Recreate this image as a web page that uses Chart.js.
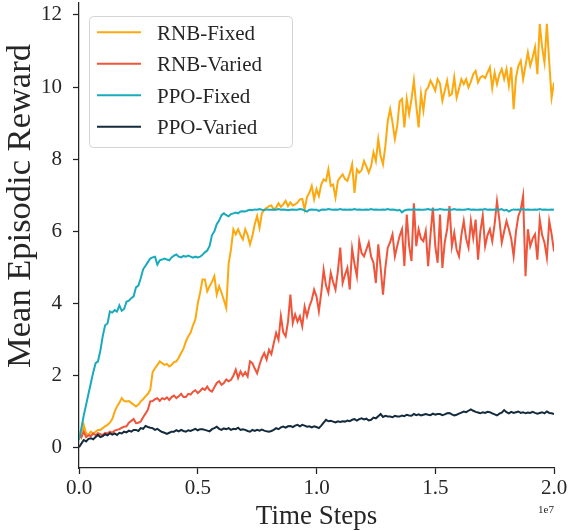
<!DOCTYPE html>
<html><head><meta charset="utf-8">
<script src="https://cdn.jsdelivr.net/npm/chart.js@4/dist/chart.umd.min.js"></script>
<style>html,body{margin:0;padding:0;background:#fff}canvas{display:block}</style>
</head><body>
<canvas id="c" width="570" height="531"></canvas>
<script>
const seriesNames = ['RNB-Fixed', 'RNB-Varied', 'PPO-Fixed', 'PPO-Varied'];
const seriesColors = ['#FCA80E', '#EE553A', '#19ABBC', '#142B3D'];
const stepSize = 1e5; // spacing of logged time steps

const rnbFixed = [
0.45,0.3,0.64,0.4,0.36,0.45,0.4,0.45,0.5,0.5,
0.55,0.6,0.64,0.7,0.8,1.0,1.15,1.25,1.38,1.3,
1.29,1.3,1.25,1.2,1.15,1.2,1.29,1.35,1.43,1.5,
1.61,2.1,2.21,2.3,2.4,2.35,2.3,2.33,2.26,2.3,
2.38,2.4,2.5,2.63,2.75,2.95,3.09,3.2,3.4,3.56,
4.0,4.3,4.67,4.67,4.34,4.48,4.6,4.76,4.25,4.48,
4.3,4.1,3.88,5.1,5.5,6.06,5.92,6.06,5.9,5.78,
6.06,5.9,5.64,5.87,6.2,6.43,6.1,6.5,6.61,6.65,
6.7,6.72,6.6,6.66,6.78,6.68,6.75,6.85,6.7,6.8,
6.72,6.75,6.8,6.89,6.9,6.61,6.95,7.07,7.26,6.89,
7.17,6.98,7.3,7.44,7.4,7.72,7.26,7.3,6.94,7.4,
7.5,7.58,7.45,7.4,7.6,7.86,7.07,7.72,7.63,7.7,
7.95,7.8,7.63,7.81,8.19,7.95,8.56,8.09,7.86,8.37,
9.06,9.39,9.02,8.56,8.93,9.6,9.67,8.88,9.67,9.25,
9.67,10.18,9.49,8.88,9.81,9.35,9.9,9.99,10.18,10.05,
9.9,10.22,10.1,9.62,9.9,10.18,9.76,9.81,10.27,9.71,
9.95,10.22,10.08,10.22,9.99,10.15,10.36,10.45,10.13,10.27,
10.31,10.25,10.4,10.55,9.97,10.4,10.08,10.35,10.5,10.22,
10.5,10.04,10.55,9.39,10.27,10.59,10.73,10.22,10.59,10.96,
10.59,10.82,11.1,10.36,11.75,11.1,10.68,11.75,10.68,9.71,
10.13
];

const rnbVaried = [
0.35,0.3,0.45,0.3,0.35,0.33,0.4,0.35,0.41,0.38,
0.36,0.42,0.4,0.45,0.42,0.48,0.5,0.52,0.56,0.59,
0.6,0.7,0.75,0.8,0.69,0.7,0.73,0.85,0.95,1.06,
1.29,1.3,1.35,1.38,1.3,1.38,1.35,1.4,1.33,1.41,
1.45,1.38,1.43,1.5,1.41,1.41,1.5,1.48,1.56,1.6,
1.52,1.58,1.65,1.61,1.7,1.6,1.56,1.68,1.8,1.85,
1.75,1.8,1.9,1.85,1.89,2.0,2.17,1.94,2.12,2.0,
2.1,1.98,2.4,2.35,2.2,2.07,2.3,2.5,2.63,2.45,
2.72,2.6,2.9,3.19,3.0,3.65,3.2,3.09,3.5,4.25,
3.46,3.7,3.5,3.65,3.37,3.92,3.65,3.92,4.1,4.39,
4.2,3.79,4.3,4.94,4.5,4.3,4.85,4.6,4.39,4.9,
5.55,4.57,4.8,4.99,4.39,5.52,5.1,4.76,5.73,5.4,
5.31,5.5,5.69,5.3,5.13,4.57,5.64,5.0,4.25,5.0,
5.55,5.7,5.92,5.31,5.6,5.87,6.06,5.04,6.47,5.6,
5.18,6.78,5.59,6.06,5.8,5.73,6.01,5.04,5.9,6.66,
5.6,5.13,6.47,4.99,5.7,6.06,6.7,5.59,5.96,5.5,
5.31,5.9,6.29,5.8,5.55,6.29,5.82,6.33,5.22,6.0,
6.44,5.59,5.9,6.06,5.73,6.2,6.84,6.33,5.69,6.0,
6.29,6.06,5.8,5.31,6.0,6.43,6.6,6.98,4.76,6.06,
5.59,5.8,5.92,5.22,6.33,5.9,5.69,5.27,6.29,5.92,
5.45
];

const ppoFixed = [
0.22,0.55,0.9,1.2,1.5,1.8,2.1,2.35,2.4,2.7,
3.1,3.4,3.45,3.78,3.75,3.82,3.78,3.95,3.8,3.85,
4.05,4.08,4.15,4.2,4.45,4.5,4.7,4.95,5.05,5.15,
5.25,5.28,5.3,5.08,5.2,5.22,5.25,5.22,5.2,5.28,
5.33,5.36,5.3,5.28,5.32,5.3,5.33,5.3,5.27,5.3,
5.28,5.3,5.35,5.42,5.47,5.6,5.9,6.0,6.2,6.3,
6.45,6.5,6.45,6.42,6.48,6.5,6.52,6.5,6.55,6.56,
6.55,6.58,6.6,6.59,6.61,6.6,6.62,6.6,6.59,6.61,
6.6,6.6,6.61,6.6,6.62,6.6,6.61,6.6,6.59,6.6,
6.61,6.6,6.6,6.62,6.61,6.58,6.55,6.6,6.61,6.6,
6.6,6.57,6.6,6.61,6.6,6.62,6.61,6.6,6.61,6.6,
6.62,6.6,6.61,6.6,6.61,6.6,6.62,6.6,6.61,6.6,
6.6,6.61,6.6,6.62,6.6,6.61,6.6,6.6,6.61,6.6,
6.62,6.6,6.61,6.6,6.58,6.6,6.53,6.58,6.6,6.61,
6.6,6.62,6.6,6.61,6.6,6.6,6.61,6.62,6.6,6.61,
6.6,6.6,6.62,6.61,6.6,6.6,6.61,6.6,6.62,6.6,
6.61,6.6,6.6,6.61,6.62,6.6,6.61,6.6,6.6,6.61,
6.6,6.62,6.6,6.61,6.6,6.61,6.6,6.6,6.62,6.58,
6.6,6.55,6.59,6.61,6.6,6.61,6.6,6.62,6.6,6.61,
6.6,6.6,6.61,6.6,6.62,6.6,6.61,6.6,6.6,6.61,
6.6
];

const ppoVaried = [
0.02,0.12,0.22,0.18,0.25,0.27,0.24,0.3,0.36,0.3,
0.33,0.38,0.35,0.41,0.37,0.4,0.36,0.42,0.4,0.45,
0.43,0.48,0.45,0.5,0.5,0.47,0.55,0.53,0.61,0.58,
0.56,0.55,0.5,0.53,0.48,0.44,0.42,0.39,0.42,0.45,
0.45,0.49,0.46,0.5,0.47,0.45,0.49,0.47,0.5,0.53,
0.49,0.52,0.52,0.5,0.48,0.46,0.52,0.55,0.59,0.53,
0.5,0.54,0.52,0.55,0.5,0.53,0.52,0.56,0.5,0.52,
0.5,0.47,0.45,0.5,0.47,0.5,0.48,0.51,0.48,0.46,
0.45,0.47,0.5,0.55,0.52,0.57,0.59,0.56,0.6,0.61,
0.58,0.62,0.64,0.6,0.64,0.62,0.59,0.6,0.57,0.6,
0.58,0.55,0.62,0.7,0.78,0.74,0.75,0.73,0.71,0.74,
0.72,0.74,0.73,0.76,0.74,0.78,0.8,0.76,0.8,0.82,
0.79,0.81,0.76,0.78,0.84,0.82,0.88,0.94,0.86,0.89,
0.87,0.87,0.85,0.89,0.87,0.87,0.9,0.88,0.92,0.9,
0.89,0.94,0.91,0.93,0.9,0.92,0.94,0.92,0.91,0.95,
0.92,0.94,0.94,0.91,0.93,0.96,0.97,0.93,0.9,0.92,
0.95,0.98,1.01,0.99,1.03,1.07,1.03,1.0,0.98,0.96,
0.99,0.97,1.0,0.99,0.96,0.93,0.9,0.95,0.98,1.05,
0.99,0.96,1.0,0.97,0.99,1.01,0.97,0.99,0.96,0.98,
0.97,1.0,0.97,0.95,0.97,0.99,0.96,1.01,0.97,0.96,
0.94
];

const xTicks = [0, 5e6, 1e7, 1.5e7, 2e7];
const xTickLabels = ['0.0', '0.5', '1.0', '1.5', '2.0'];
const yTicks = [0, 2, 4, 6, 8, 10, 12];
const yTickLabels = ['0', '2', '4', '6', '8', '10', '12'];
const xTitle = 'Time Steps';
const yTitle = 'Mean Episodic Reward';
const offsetLabel = '1e7';

const steps = rnbFixed.map((_, i) => i * stepSize);
const allSeries = [rnbFixed, rnbVaried, ppoFixed, ppoVaried];

const SERIF = "'Liberation Serif', 'Times New Roman', 'DejaVu Serif', serif";
const TXT = '#262626';

const datasets = allSeries.map((vals, k) => ({
  label: seriesNames[k],
  data: vals.map((v, i) => ({x: steps[i], y: v})),
  borderColor: seriesColors[k],
  backgroundColor: seriesColors[k],
  borderWidth: 2,
  pointRadius: 0,
  tension: 0,
  fill: false,
  order: 4 - k
}));

const decor = {
  id: 'decor',
  afterDraw(chart) {
    const ctx = chart.ctx;
    const area = chart.chartArea;
    ctx.save();
    ctx.fillStyle = TXT;
    // x title
    ctx.font = '27px ' + SERIF;
    ctx.textAlign = 'center';
    ctx.textBaseline = 'alphabetic';
    ctx.fillText(xTitle, (area.left + area.right) / 2, 524);
    // offset label
    ctx.font = '11px ' + SERIF;
    ctx.textAlign = 'right';
    ctx.fillText(offsetLabel, area.right, 513);
    // y title
    ctx.save();
    ctx.translate(21, 206);
    ctx.rotate(-Math.PI / 2);
    ctx.font = '34.5px ' + SERIF;
    ctx.textAlign = 'center';
    ctx.textBaseline = 'middle';
    ctx.fillText(yTitle, 0, 0);
    ctx.restore();
    // legend
    const bx = 89.5, by = 16.5, bw = 203, bh = 131, r = 4;
    ctx.beginPath();
    ctx.moveTo(bx + r, by);
    ctx.lineTo(bx + bw - r, by);
    ctx.arcTo(bx + bw, by, bx + bw, by + r, r);
    ctx.lineTo(bx + bw, by + bh - r);
    ctx.arcTo(bx + bw, by + bh, bx + bw - r, by + bh, r);
    ctx.lineTo(bx + r, by + bh);
    ctx.arcTo(bx, by + bh, bx, by + bh - r, r);
    ctx.lineTo(bx, by + r);
    ctx.arcTo(bx, by, bx + r, by, r);
    ctx.closePath();
    ctx.fillStyle = 'rgba(255,255,255,0.85)';
    ctx.fill();
    ctx.strokeStyle = '#d4d4d4';
    ctx.lineWidth = 1;
    ctx.stroke();
    ctx.font = '21px ' + SERIF;
    ctx.textAlign = 'left';
    ctx.textBaseline = 'alphabetic';
    chart.data.datasets.forEach((ds, k) => {
      const ly = 32.3 + k * 31.5;
      ctx.strokeStyle = ds.borderColor;
      ctx.lineWidth = 2;
      ctx.beginPath();
      ctx.moveTo(97, ly);
      ctx.lineTo(141, ly);
      ctx.stroke();
      ctx.fillStyle = TXT;
      ctx.fillText(ds.label, 157, ly + 7.3);
    });
    ctx.restore();
  }
};

new Chart(document.getElementById('c'), {
  type: 'line',
  data: { datasets },
  options: {
    responsive: false,
    animation: false,
    layout: { padding: { top: 3, right: 16, left: 0, bottom: 0 } },
    plugins: { legend: { display: false }, tooltip: { enabled: false } },
    scales: {
      x: {
        type: 'linear',
        min: 0, max: 2e7,
        afterBuildTicks(s) { s.ticks = xTicks.map(v => ({value: v})); },
        afterFit(s) { s.height = 63; s.paddingLeft = 0; s.paddingRight = 0; },
        ticks: {
          autoSkip: false, maxRotation: 0, padding: 2,
          color: TXT, font: { family: SERIF, size: 21 },
          callback: (v) => xTickLabels[xTicks.indexOf(v)]
        },
        grid: { drawOnChartArea: false, drawTicks: true, tickLength: 6, tickColor: '#222', tickWidth: 1.25 },
        border: { display: true, color: '#222', width: 1.25 }
      },
      y: {
        type: 'linear',
        min: -0.556, max: 12.33,
        afterBuildTicks(s) { s.ticks = yTicks.map(v => ({value: v})); },
        afterFit(s) { s.width = 79; s.paddingTop = 0; s.paddingBottom = 0; },
        ticks: {
          autoSkip: false, padding: 11,
          color: TXT, font: { family: SERIF, size: 21 },
          callback: (v) => yTickLabels[yTicks.indexOf(v)]
        },
        grid: { drawOnChartArea: false, drawTicks: true, tickLength: 6, tickColor: '#222', tickWidth: 1.25 },
        border: { display: true, color: '#222', width: 1.25 }
      }
    }
  },
  plugins: [decor]
});
</script>
</body></html>
